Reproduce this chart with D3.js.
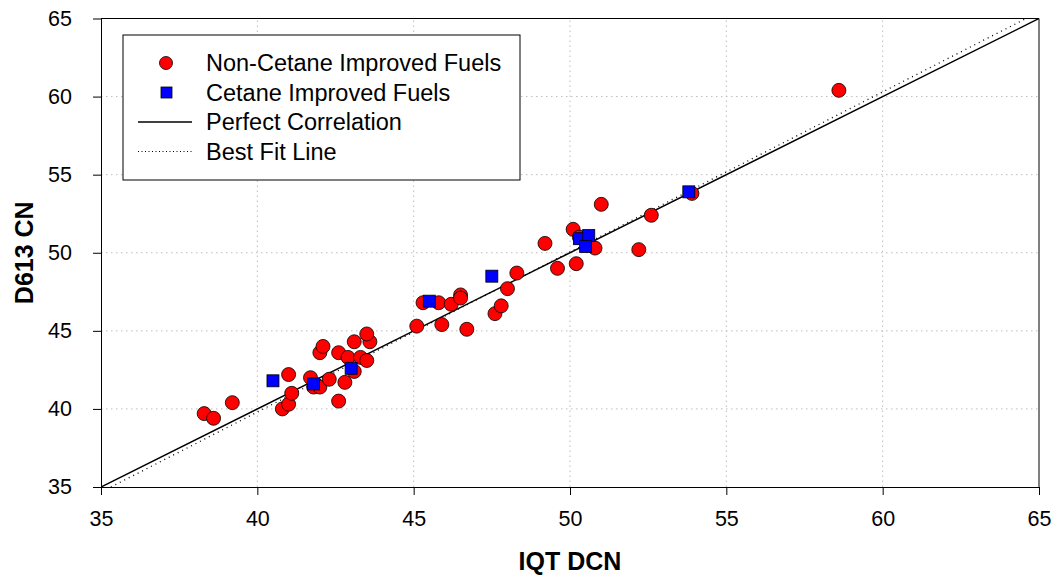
<!DOCTYPE html>
<html>
<head>
<meta charset="utf-8">
<script src="https://cdn.jsdelivr.net/npm/d3@7"></script>
<style>
  body { margin: 0; background: #fff; }
  text { font-family: "Liberation Sans", Arial, sans-serif; }
</style>
</head>
<body>
<svg id="chart" width="1054" height="577"></svg>
<script>
// *******************
// data
// *******************

// Non-cetane improved fuels: [IQT DCN, D613 CN]
const nonCetane = [
  [38.3, 39.7], [38.6, 39.4], [39.2, 40.4], [40.8, 40.0], [41.0, 40.3],
  [41.1, 41.0], [41.0, 42.2], [41.7, 42.0], [41.8, 41.4], [42.0, 41.4],
  [42.3, 41.9], [42.0, 43.6], [42.1, 44.0], [42.6, 43.6], [42.9, 43.3],
  [42.8, 41.7], [42.6, 40.5], [43.1, 42.4], [43.3, 43.3], [43.5, 43.1],
  [43.1, 44.3], [43.6, 44.3], [43.5, 44.8], [45.1, 45.3], [45.3, 46.8],
  [45.8, 46.8], [45.9, 45.4], [46.2, 46.7], [46.5, 47.3], [46.5, 47.1],
  [46.7, 45.1], [47.6, 46.1], [47.8, 46.6], [48.0, 47.7], [48.3, 48.7],
  [49.2, 50.6], [49.6, 49.0], [50.2, 49.3], [50.1, 51.5], [50.3, 51.0],
  [50.6, 50.6], [50.8, 50.3], [51.0, 53.1], [52.2, 50.2], [52.6, 52.4],
  [53.9, 53.8], [58.6, 60.4]
];

// Cetane improved fuels
const cetaneImproved = [
  [40.5, 41.8], [41.8, 41.6], [43.0, 42.6], [45.5, 46.9], [47.5, 48.5],
  [50.3, 50.9], [50.6, 51.1], [50.5, 50.4], [53.8, 53.9]
];

// best fit line coefficients (estimated from the dotted line)
const bestFit = { slope: 1.025, intercept: -1.2 };

const xTicks = [35, 40, 45, 50, 55, 60, 65];
const yTicks = [35, 40, 45, 50, 55, 60, 65];

const legendItems = [
  { label: "Non-Cetane Improved Fuels", kind: "circle" },
  { label: "Cetane Improved Fuels", kind: "square" },
  { label: "Perfect Correlation", kind: "solid" },
  { label: "Best Fit Line", kind: "dotted" }
];

// *******************
// layout
// *******************
const MARGIN = { LEFT: 101, RIGHT: 15, TOP: 18.5, BOTTOM: 90 };
const WIDTH = 1054, HEIGHT = 577;
const RED = "#ff0000", BLUE = "#0000ff";

const svg = d3.select("#chart");

const x = d3.scaleLinear().domain([35, 65]).range([MARGIN.LEFT, WIDTH - MARGIN.RIGHT]);
const y = d3.scaleLinear().domain([35, 65]).range([HEIGHT - MARGIN.BOTTOM, MARGIN.TOP]);

svg.append("defs").append("clipPath").attr("id", "plot-clip")
  .append("rect")
  .attr("x", x(35)).attr("y", y(65))
  .attr("width", x(65) - x(35)).attr("height", y(35) - y(65));

// dotted grid
const grid = svg.append("g").attr("class", "grid");
grid.selectAll("line.gx")
  .data(xTicks.slice(1, -1))
  .join("line")
  .attr("x1", (d) => x(d)).attr("x2", (d) => x(d))
  .attr("y1", y(35)).attr("y2", y(65))
  .attr("stroke", "#bdbdbd").attr("stroke-dasharray", "1.5,3.5");
grid.selectAll("line.gy")
  .data(yTicks.slice(1, -1))
  .join("line")
  .attr("y1", (d) => y(d)).attr("y2", (d) => y(d))
  .attr("x1", x(35)).attr("x2", x(65))
  .attr("stroke", "#bdbdbd").attr("stroke-dasharray", "1.5,3.5");

// frame (top and right)
svg.append("path")
  .attr("d", `M${x(35)},${y(65)}H${x(65)}V${y(35)}`)
  .attr("fill", "none").attr("stroke", "#000").attr("stroke-width", 1);

// axes
const xAxis = svg.append("g")
  .attr("transform", `translate(0,${y(35)})`)
  .call(d3.axisBottom(x).tickValues(xTicks).tickSize(8).tickSizeOuter(0).tickPadding(16));
const yAxis = svg.append("g")
  .attr("transform", `translate(${x(35)},0)`)
  .call(d3.axisLeft(y).tickValues(yTicks).tickSize(8).tickSizeOuter(0).tickPadding(21));
[xAxis, yAxis].forEach((g) => {
  g.selectAll("text").attr("font-size", 21.5).attr("fill", "#000")
    .attr("font-family", "'Liberation Sans', Arial, sans-serif");
  g.select(".domain").attr("stroke", "#000");
});

// lines
const lines = svg.append("g").attr("clip-path", "url(#plot-clip)");
lines.append("line")
  .attr("x1", x(35)).attr("y1", y(35)).attr("x2", x(65)).attr("y2", y(65))
  .attr("stroke", "#000").attr("stroke-width", 1.5);
const fitX0 = (35 - bestFit.intercept) / bestFit.slope;
lines.append("line")
  .attr("x1", x(fitX0)).attr("y1", y(35))
  .attr("x2", x(65)).attr("y2", y(bestFit.slope * 65 + bestFit.intercept))
  .attr("stroke", "#000").attr("stroke-width", 1.3).attr("stroke-dasharray", "1,4");

// points
svg.append("g").selectAll("circle")
  .data(nonCetane)
  .join("circle")
  .attr("cx", (d) => x(d[0])).attr("cy", (d) => y(d[1]))
  .attr("r", 7)
  .attr("fill", RED).attr("stroke", "#000").attr("stroke-width", 0.8);

const SQ = 12;
svg.append("g").selectAll("rect")
  .data(cetaneImproved)
  .join("rect")
  .attr("x", (d) => x(d[0]) - SQ / 2).attr("y", (d) => y(d[1]) - SQ / 2)
  .attr("width", SQ).attr("height", SQ)
  .attr("fill", BLUE).attr("stroke", "#000").attr("stroke-width", 0.8);

// legend
const legend = svg.append("g").attr("transform", "translate(123,35)");
legend.append("rect")
  .attr("width", 397).attr("height", 145)
  .attr("fill", "#fff").attr("stroke", "#000").attr("stroke-width", 1);

const rows = legend.selectAll("g.item")
  .data(legendItems)
  .join("g")
  .attr("class", "item")
  .attr("transform", (d, i) => `translate(0,${28 + i * 29.5})`);

rows.each(function (d) {
  const g = d3.select(this);
  if (d.kind === "circle") {
    g.append("circle").attr("cx", 43).attr("cy", 0).attr("r", 6.5)
      .attr("fill", RED).attr("stroke", "#000").attr("stroke-width", 0.8);
  } else if (d.kind === "square") {
    g.append("rect").attr("x", 38).attr("y", -5.5).attr("width", 11).attr("height", 11)
      .attr("fill", BLUE).attr("stroke", "#000").attr("stroke-width", 0.8);
  } else {
    g.append("line").attr("x1", 15).attr("x2", 69).attr("y1", 0).attr("y2", 0)
      .attr("stroke", "#000")
      .attr("stroke-width", d.kind === "solid" ? 1.5 : 1)
      .attr("stroke-dasharray", d.kind === "solid" ? null : "1,2.5");
  }
  g.append("text").attr("x", 83).attr("y", 0).attr("dy", "0.35em")
    .attr("font-size", 23.5).text(d.label);
});

// axis titles
svg.append("text")
  .attr("x", (x(35) + x(65)) / 2).attr("y", 570)
  .attr("text-anchor", "middle").attr("font-size", 25).attr("font-weight", "bold")
  .text("IQT DCN");
svg.append("text")
  .attr("transform", `translate(33,${(y(35) + y(65)) / 2}) rotate(-90)`)
  .attr("text-anchor", "middle").attr("font-size", 25).attr("font-weight", "bold")
  .text("D613 CN");
</script>
</body>
</html>
